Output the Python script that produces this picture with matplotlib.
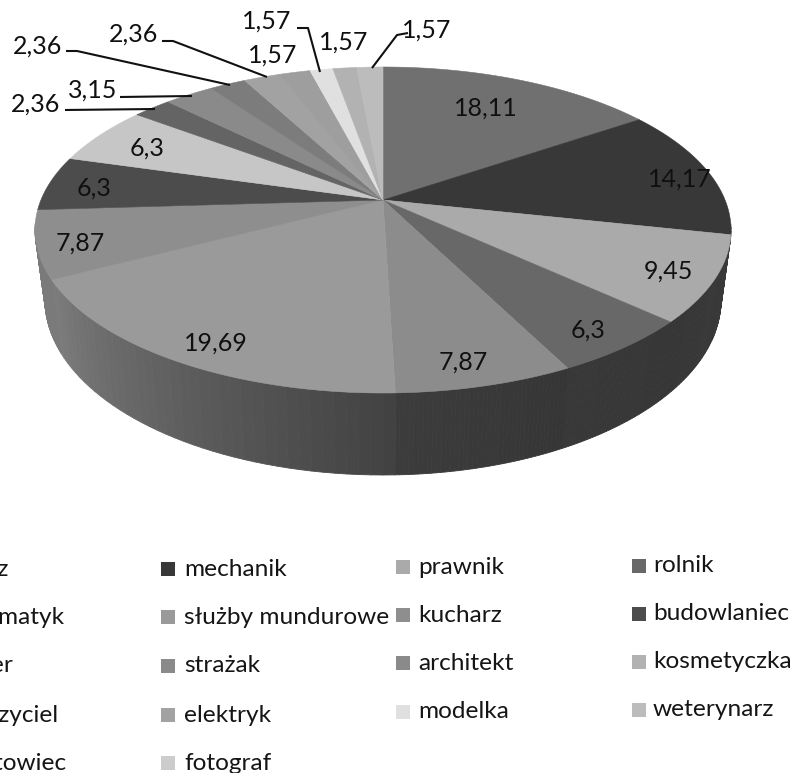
import numpy as np
import matplotlib
matplotlib.use('Agg')
import matplotlib.pyplot as plt
from matplotlib.colors import to_rgb
from matplotlib.patches import Polygon, Rectangle

plt.rcParams['font.family'] = ['Lato', 'DejaVu Sans']

# printed labels, clockwise from 12 o'clock
value_labels = ['18,11', '14,17', '9,45', '6,3', '7,87', '19,69', '7,87', '6,3', '6,3',
                '2,36', '3,15', '2,36', '2,36', '1,57', '1,57', '1,57', '1,57']
# the printed numbers add up to more than 100, so the drawn size of each slice
# (degrees, perspective removed) is read off the picture separately
slice_deg = [65, 47.4, 27.6, 17.6, 21, 54.8, 22.6, 19.6, 22.4,
             8.7, 11.3, 8.5, 8.5, 7.5, 5.5, 5.7, 6.3]
slice_colors = ['#707070', '#383838', '#aaaaaa', '#686868', '#8c8c8c', '#9a9a9a', '#8e8e8e',
                '#4c4c4c', '#c6c6c6', '#646464', '#8a8a8a', '#7c7c7c', '#a2a2a2',
                '#9e9e9e', '#e0e0e0', '#b2b2b2', '#bcbcbc']
wall_from = ['#1e1e1e', '#3e3e3e', '#3a3a3a', '#363636', '#363636', '#424242', '#7a7a7a']
wall_to = ['#2c2c2c', '#484848', '#363636', '#383838', '#3c3c3c', '#7c7c7c', '#7a7a7a']

legend_names = [['lekarz', 'informatyk', 'inżynier', 'nauczyciel', 'sportowiec'],
                ['mechanik', 'służby mundurowe', 'strażak', 'elektryk', 'fotograf'],
                ['prawnik', 'kucharz', 'architekt', 'modelka'],
                ['rolnik', 'budowlaniec', 'kosmetyczka', 'weterynarz']]
legend_colors = [[None, '#8c8c8c', '#c6c6c6', '#a2a2a2', '#9e9e9e'],
                 ['#383838', '#9a9a9a', '#8a8a8a', '#a2a2a2', '#cccccc'],
                 ['#aaaaaa', '#8e8e8e', '#8a8a8a', '#e0e0e0'],
                 ['#686868', '#4c4c4c', '#b2b2b2', '#bcbcbc']]
legend_x = [None, 168, 403, 639]
legend_text_x = [None, 184, 418, 653]
legend_y = [[569, 617, 666, 715, 763], [569, 617, 666, 715, 763],
            [567, 615, 663, 712], [566, 614, 662, 710]]

label_xy = [(486, 108), (680, 179), (668, 271), (588, 330), (463, 362), (216, 343), (80, 243),
            (94, 188), (147, 148), (36, 104), (93, 90), (38, 46), (134, 34),
            (273, 55), (267, 21), (344, 42), (427, 30)]
leaders = [[(65, 110), (155, 109)],
           [(120, 97), (192, 96)],
           [(66, 51), (77, 51), (230, 85)],
           [(162, 41), (173, 41), (267, 77)],
           [(297, 28), (308, 28), (320, 72)],
           [(372, 68), (397, 35), (408, 33)]]

fig = plt.figure(figsize=(7.92, 7.73), dpi=100)
ax = fig.add_axes([0, 0, 1, 1])
ax.set_xlim(0, 792)
ax.set_ylim(773, 0)
ax.axis('off')

# perspective: centre of the pie sits above the centre of the ellipse
a = 0.184j
def rim(deg):
    w = np.exp(1j*np.radians(90 - np.asarray(deg, dtype=float)))
    return (w + a)/(1 + np.conj(a)*w)

def top_xy(z):
    return np.column_stack((383 + 348*z.real, 230 - 163*z.imag))

def bottom_xy(z):
    return np.column_stack((383 + 338*z.real, 300 - 175*z.imag))

edges = np.concatenate(([0], np.cumsum(slice_deg)))

# side wall, front slices only
for i in range(len(wall_from)):
    angles = np.linspace(edges[i], edges[i+1], 40)
    c0 = np.array(to_rgb(wall_from[i]))
    c1 = np.array(to_rgb(wall_to[i]))
    for j in range(len(angles) - 1):
        z = rim(angles[j:j+2])
        if z.imag.max() > 0.05:
            continue
        t = j/(len(angles) - 2)
        col = c0 + (c1 - c0)*t
        pts = np.vstack((top_xy(z), bottom_xy(z)[::-1]))
        ax.add_patch(Polygon(pts, facecolor=col, edgecolor=col, lw=0.6, zorder=1))

# top face
for i in range(len(slice_deg)):
    angles = np.linspace(edges[i], edges[i+1], 60)
    pts = np.vstack(([[383, 200]], top_xy(rim(angles))))
    ax.add_patch(Polygon(pts, facecolor=slice_colors[i], edgecolor=slice_colors[i], lw=0.4, zorder=2))

# data labels and leader lines
for txt, (x, y) in zip(value_labels, label_xy):
    ax.text(x, y, txt, fontsize=18, color='#101010', ha='center', va='center', zorder=4)
for line in leaders:
    xs, ys = zip(*line)
    ax.plot(xs, ys, color='#111111', lw=1.5, zorder=3, solid_capstyle='butt')

# legend, first column is cut off by the page edge
col1_end = [9, 65, 14, 58, 66]
for name, y, end in zip(legend_names[0], legend_y[0], col1_end):
    ax.text(end, y, name, fontsize=17.6, color='#151515', ha='right', va='center')
for c in range(1, 4):
    for name, col, y in zip(legend_names[c], legend_colors[c], legend_y[c]):
        ax.add_patch(Rectangle((legend_x[c] - 7, y - 7), 14, 14, facecolor=col, edgecolor='none'))
        ax.text(legend_text_x[c], y, name, fontsize=17.6, color='#151515', ha='left', va='center')

fig.savefig('out.png', dpi=100)
